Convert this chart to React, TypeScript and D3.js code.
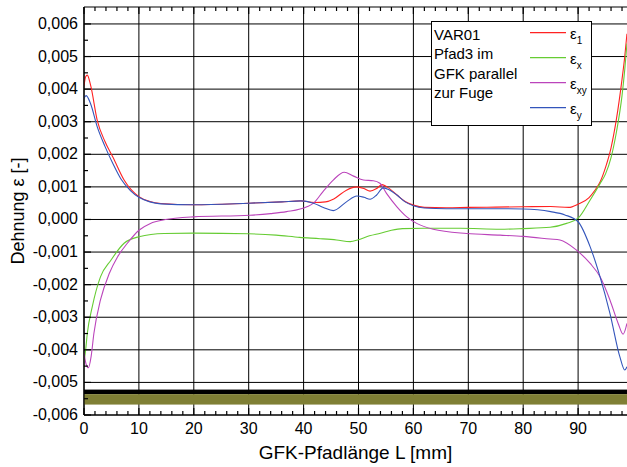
import React from "react";
import * as d3 from "d3";

// ---- data (x in mm, strain in [-]) ----
const eps1: [number, number][] = [
  [0, 0.0041], [0.3, 0.00438], [0.6, 0.00443], [1.2, 0.00412], [2.4, 0.00305], [3.8, 0.0024],
  [5.3, 0.0019], [7.3, 0.00121], [10, 0.0007], [12, 0.00055], [14, 0.00049], [20, 0.00045],
  [30, 0.0005], [36, 0.00054], [39.5, 0.00057], [42, 0.00052], [44, 0.00054], [45.5, 0.00063],
  [47.8, 0.0009], [49.7, 0.001], [51, 0.00095], [52.1, 0.00087], [53.3, 0.00095], [54.3, 0.00107],
  [55.2, 0.001], [57, 0.00075], [58.5, 0.00055], [60, 0.00044], [62, 0.00037], [66, 0.00036],
  [70, 0.00037], [75, 0.00038], [80, 0.00039], [85, 0.0004], [88.3, 0.00037], [90, 0.00047],
  [92, 0.00067], [93, 0.00088], [94, 0.00115], [95, 0.0016], [96, 0.0022], [97, 0.0031],
  [98, 0.0043], [98.5, 0.005], [98.9, 0.0057],
];
const epsX: [number, number][] = [
  [0, -0.00435], [0.3, -0.004], [0.6, -0.0035], [1.5, -0.00268], [3.0, -0.00176], [4.9, -0.00125],
  [7.3, -0.00073], [10, -0.00053], [14.6, -0.00043], [20, -0.00042], [30, -0.00044], [35, -0.00048],
  [39.3, -0.00055], [43, -0.00059], [46, -0.00063], [48.5, -0.00068], [50, -0.00062], [52, -0.0005],
  [54, -0.00042], [56, -0.00033], [58, -0.00028], [62, -0.00027], [68.5, -0.00027], [75.8, -0.0003],
  [80, -0.00028], [84.9, -0.00024], [87.9, -0.00012], [90, 0.00004], [92.2, 0.0006], [94, 0.0011],
  [95, 0.0014], [96, 0.0019], [97, 0.0027], [98, 0.0038], [98.5, 0.0046], [98.9, 0.0054],
];
const epsXY: [number, number][] = [
  [0, -0.0041], [0.4, -0.00445], [0.8, -0.00455], [1.3, -0.0042], [1.8, -0.0035], [3.0, -0.00247],
  [4.6, -0.00166], [6.1, -0.00115], [7.9, -0.00073], [10, -0.00033], [12.1, -0.00012], [14.6, -0.00001],
  [19.9, 0.00008], [30.2, 0.00013], [34, 0.00018], [36.9, 0.00024], [40.6, 0.00039], [41.8, 0.0005],
  [43.5, 0.00085], [45.4, 0.00121], [47.4, 0.00145], [49.1, 0.00133], [50.9, 0.00121], [52.7, 0.00119],
  [53.9, 0.00111], [55.1, 0.0008], [57, 0.00039], [58.8, 0.00008], [60.6, -0.00012], [63.6, -0.0003],
  [69.7, -0.00043], [75.8, -0.00048], [80, -0.00052], [84.9, -0.0006], [86.7, -0.00063], [89.7, -0.00094],
  [92.2, -0.00135], [94, -0.00176], [95.8, -0.00247], [97.3, -0.00319], [98.2, -0.00352], [98.9, -0.00319],
];
const epsY: [number, number][] = [
  [0, 0.00372], [0.4, 0.0038], [1.2, 0.00355], [2.4, 0.00285], [3.8, 0.00225], [5.3, 0.0017],
  [6.7, 0.00125], [8.5, 0.00088], [10, 0.00068], [12, 0.00054], [14, 0.00048], [20, 0.00045],
  [30, 0.0005], [36, 0.00054], [39.5, 0.00057], [41.8, 0.0005], [43.6, 0.00037], [45.4, 0.00027],
  [47.8, 0.00054], [49.7, 0.00072], [51, 0.00068], [52.1, 0.00062], [53.3, 0.00075], [54.5, 0.00097],
  [55.5, 0.00092], [57, 0.00075], [58.5, 0.00054], [60, 0.00042], [62, 0.00035], [66, 0.00033],
  [70, 0.00033], [75, 0.00033], [80, 0.00032], [85, 0.00024], [87.6, 0.00014], [90, -0.00007],
  [92.2, -0.00084], [94, -0.00176], [95.8, -0.00288], [97.6, -0.00421], [98.5, -0.00462], [98.9, -0.00452],
];

const seriesNames = ["1", "x", "xy", "y"];
const seriesData = [eps1, epsX, epsXY, epsY];
const seriesColors = ["#ff2222", "#66cc33", "#bb44bb", "#3355bb"];

const xTicks = [0, 10, 20, 30, 40, 50, 60, 70, 80, 90, 100];
const yTicks = [-0.006, -0.005, -0.004, -0.003, -0.002, -0.001, 0, 0.001, 0.002, 0.003, 0.004, 0.005, 0.006];
const legendTitle = ["VAR01", "Pfad3 im", "GFK parallel", "zur Fuge"];
const bandBlack = [-0.00522, -0.00536];
const bandOlive = [-0.00536, -0.00568];
const xTitle = "GFK-Pfadlänge L [mm]";
const yTitle = "Dehnung ε [-]";

const W = 627, H = 467;
const L = 84, R = 633, T = 7, B = 415;
const FONT = "'Liberation Sans', Arial, sans-serif";

export default function App() {
  const x = d3.scaleLinear().domain([0, 100]).range([L, R]);
  const y = d3.scaleLinear().domain([-0.006, 0.00652]).range([B, T]);
  const line = d3.line<[number, number]>().x(d => x(d[0])).y(d => y(d[1])).curve(d3.curveMonotoneX);
  const fmt = (v: number) => d3.format(".3f")(v).replace(".", ",").replace("−", "-");
  const xMinor = d3.range(0, 101, 2).filter(v => v % 10 !== 0);
  const yMinor = d3.range(-12, 13).filter(v => v % 2 !== 0).map(v => v * 0.0005);

  return (
    <svg width={W} height={H} style={{ position: "absolute", left: 0, top: 0, background: "#fff" }} fontFamily={FONT}>
      <defs>
        <clipPath id="plot"><rect x={L} y={T} width={R - L} height={B - T} /></clipPath>
      </defs>
      {/* grid */}
      <g stroke="#000" strokeWidth={1}>
        {yTicks.map(v => <line key={"gy" + v} x1={L} x2={R} y1={y(v)} y2={y(v)} />)}
        {xTicks.map(v => <line key={"gx" + v} x1={x(v)} x2={x(v)} y1={T} y2={B} />)}
      </g>
      {/* band */}
      <rect x={L} width={R - L} y={y(bandBlack[0])} height={y(bandBlack[1]) - y(bandBlack[0])} fill="#000" />
      <rect x={L} width={R - L} y={y(bandOlive[0])} height={y(bandOlive[1]) - y(bandOlive[0])} fill="#7f7f35" />
      {/* curves */}
      <g clipPath="url(#plot)" fill="none" strokeWidth={1.1}>
        {seriesData.map((d, i) => <path key={i} d={line(d) || ""} stroke={seriesColors[i]} />)}
      </g>
      {/* axes */}
      <g stroke="#000" strokeWidth={1.2}>
        <line x1={L} x2={L} y1={T} y2={B} />
        <line x1={L} x2={R} y1={B} y2={B} />
        <line x1={L} x2={R} y1={T} y2={T} />
        {xTicks.map(v => <line key={"xt" + v} x1={x(v)} x2={x(v)} y1={B} y2={B - 7} />)}
        {xMinor.map(v => <line key={"xm" + v} x1={x(v)} x2={x(v)} y1={B} y2={B - 4} />)}
        {xTicks.map(v => <line key={"xtt" + v} x1={x(v)} x2={x(v)} y1={T} y2={T + 7} />)}
        {xMinor.map(v => <line key={"xmt" + v} x1={x(v)} x2={x(v)} y1={T} y2={T + 4} />)}
        {yTicks.map(v => <line key={"yt" + v} x1={L} x2={L + 7} y1={y(v)} y2={y(v)} />)}
        {yMinor.map(v => <line key={"ym" + v} x1={L} x2={L + 4} y1={y(v)} y2={y(v)} />)}
      </g>
      {/* tick labels */}
      <g fontSize={16} fill="#000">
        {xTicks.filter(v => v < 100).map(v => (
          <text key={"xl" + v} x={x(v)} y={433.5} textAnchor="middle">{v}</text>
        ))}
        {yTicks.map(v => (
          <text key={"yl" + v} x={78} y={y(v) + 5} textAnchor="end">{fmt(v)}</text>
        ))}
      </g>
      <text x={(L + 627) / 2} y={459} textAnchor="middle" fontSize={19}>{xTitle}</text>
      <text transform={`translate(24,${211}) rotate(-90)`} textAnchor="middle" fontSize={18}>{yTitle}</text>
      {/* legend */}
      <rect x={431.5} y={21.5} width={160} height={104} fill="#fff" stroke="#000" strokeWidth={1} />
      {legendTitle.map((t, i) => (
        <text key={"lt" + i} x={434} y={40 + i * 19.4} fontSize={15}>{t}</text>
      ))}
      {seriesNames.map((n, i) => {
        const ly = 32.7 + i * 25;
        return (
          <g key={"lg" + i}>
            <line x1={530} x2={566} y1={ly} y2={ly} stroke={seriesColors[i]} strokeWidth={1.2} />
            <text x={570} y={ly + 6} fontSize={15}>ε<tspan fontSize={10} dy={5}>{n}</tspan></text>
          </g>
        );
      })}
    </svg>
  );
}
